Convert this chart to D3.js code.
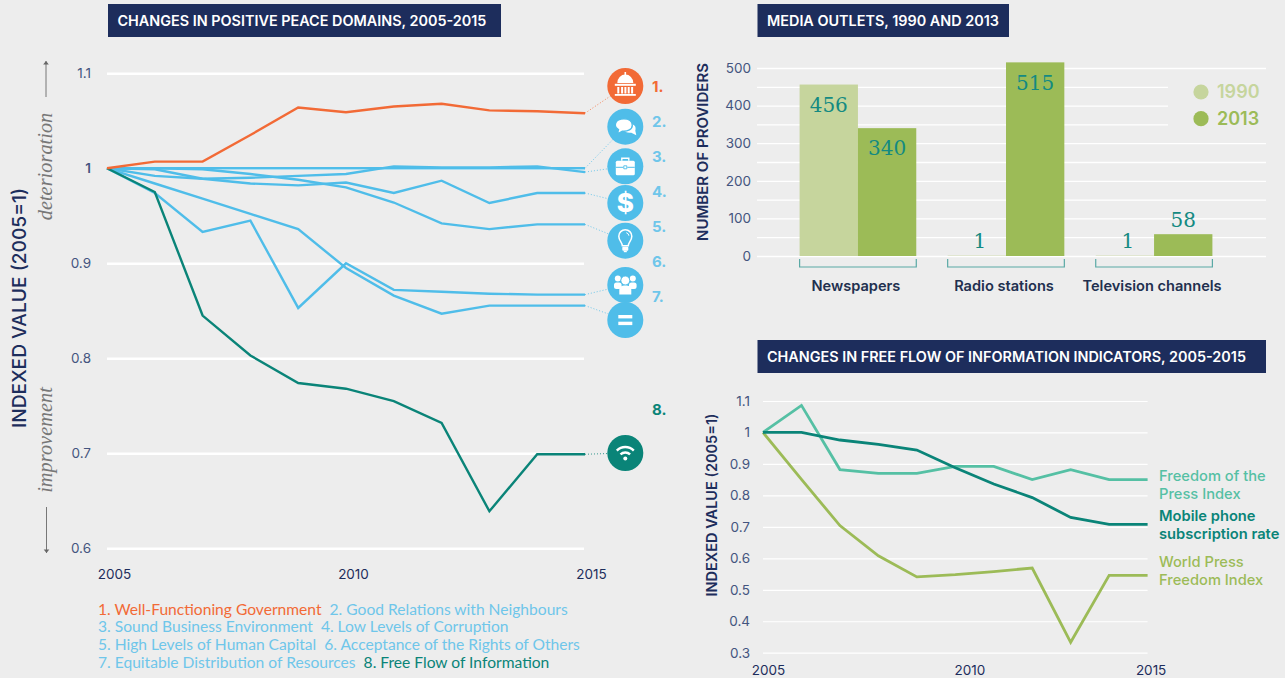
<!DOCTYPE html>
<html>
<head>
<meta charset="utf-8">
<title>Positive Peace and media outlets</title>
<script src="https://cdn.jsdelivr.net/npm/d3@7"></script>
<style>
html, body { margin: 0; padding: 0; background: #ededed; overflow: hidden; }
svg { font-family: Inter, Lato, sans-serif; }
.grid .domain, .plain .domain { display: none; }
.plain line { display: none; }
</style>
</head>
<body>
<div id="chart"></div>
<script>
// Chart values
const years = [2005, 2006, 2007, 2008, 2009, 2010, 2011, 2012, 2013, 2014, 2015];

const government = [1, 1.007, 1.007, 1.035, 1.064, 1.059, 1.065, 1.068, 1.061, 1.06, 1.058];
const neighbours = [1, 1, 1, 1, 1, 1, 1, 1, 1, 1, 1];
const business = [1, 0.992, 0.989, 0.99, 0.992, 0.994, 1.002, 1.001, 1.001, 1.002, 0.996];
const corruption = [1, 0.999, 0.989, 0.984, 0.982, 0.985, 0.974, 0.987, 0.9635, 0.974, 0.974];
const humanCapital = [1, 1, 0.999, 0.994, 0.988, 0.98, 0.964, 0.942, 0.936, 0.941, 0.941];
const rightsOfOthers = [1, 0.974, 0.933, 0.945, 0.853, 0.9, 0.872, 0.87, 0.868, 0.867, 0.867];
const resources = [1, 0.984, 0.968, 0.952, 0.936, 0.895, 0.866, 0.847, 0.8555, 0.8555, 0.8555];
const freeFlow = [1, 0.975, 0.845, 0.803, 0.774, 0.768, 0.755, 0.732, 0.639, 0.699, 0.699];

const peaceTicks = [0.6, 0.7, 0.8, 0.9, 1, 1.1];
const yearTicks = [2005, 2010, 2015];
const peaceLegend = [
    ["1. Well-Functioning Government", "2. Good Relations with Neighbours"],
    ["3. Sound Business Environment", "4. Low Levels of Corruption"],
    ["5. High Levels of Human Capital", "6. Acceptance of the Rights of Others"],
    ["7. Equitable Distribution of Resources", "8. Free Flow of Information"]
];

const mediaCategories = ["Newspapers", "Radio stations", "Television channels"];
const mediaYears = ["1990", "2013"];
const media1990 = [456, 1, 1];
const media2013 = [340, 515, 58];
const mediaGridTicks = [0, 50, 100, 150, 200, 250, 300, 350, 400, 450, 500];

const pressFreedom = [1, 1.086, 0.882, 0.87, 0.87, 0.892, 0.892, 0.85, 0.882, 0.85, 0.85];
const mobilePhone = [1, 1, 0.976, 0.962, 0.944, 0.888, 0.836, 0.793, 0.73, 0.708, 0.708];
const worldPress = [1, 0.851, 0.704, 0.608, 0.541, 0.548, 0.558, 0.569, 0.333, 0.546, 0.546];
const infoTicks = [0.3, 0.4, 0.5, 0.6, 0.7, 0.8, 0.9, 1, 1.1];

// Colours
const navy = "#1d2d5c";
const tickColor = "#44557f";
const orange = "#f26a36";
const blue = "#4fbde9";
const legendBlue = "#6fc6ea";
const teal = "#0a8478";
const pressGreen = "#55c0a4";
const lightOlive = "#c6d59d";
const olive = "#9cbb57";
const valueTeal = "#148a82";

const serif = "'Liberation Serif', serif";

const svg = d3.select("#chart")
    .append("svg")
    .attr("width", 1285)
    .attr("height", 678)
    .style("display", "block");

svg.append("rect").attr("width", 1285).attr("height", 678).attr("fill", "#ededed");

function titleBox(x, y, w, label) {
    svg.append("rect")
        .attr("x", x).attr("y", y).attr("width", w).attr("height", 33)
        .attr("fill", navy);
    svg.append("text")
        .attr("x", x + 9.5).attr("y", y + 21.8)
        .attr("fill", "#fff")
        .attr("font-size", 14.4)
        .attr("font-weight", 600)
        .text(label);
}

function rotatedText(x, y, label, size, weight, color, family, style) {
    svg.append("text")
        .attr("transform", `translate(${x},${y}) rotate(-90)`)
        .attr("text-anchor", "middle")
        .attr("font-size", size)
        .attr("font-weight", weight)
        .attr("fill", color)
        .attr("font-family", family || null)
        .attr("font-style", style || null)
        .text(label);
}

// y axis with white grid lines running across the plot
function gridAxis(scale, ticks, x, gridWidth, strokeWidth, padding, size, format) {
    const g = svg.append("g")
        .attr("class", "grid")
        .attr("transform", `translate(${x},0)`)
        .call(d3.axisLeft(scale).tickValues(ticks).tickSize(-gridWidth).tickPadding(padding).tickFormat(format));
    g.selectAll("line").attr("stroke", "#fff").attr("stroke-width", strokeWidth);
    g.attr("font-family", null);
    g.selectAll("text").attr("fill", tickColor).attr("font-size", size);
    return g;
}

// year labels sit a little to the right of their data position in the original
function yearAxis(scale, y, nudge, size) {
    const g = svg.append("g")
        .attr("class", "plain")
        .attr("transform", `translate(0,${y})`)
        .call(d3.axisBottom(scale).tickValues(yearTicks).tickSize(0).tickPadding(0).tickFormat(d3.format("d")));
    g.attr("font-family", null);
    g.selectAll("text")
        .attr("dx", d => nudge[d])
        .attr("fill", navy)
        .attr("font-size", size);
}

const indexFormat = d => d === 1 ? "1" : d3.format(".1f")(d);

// ---------- Left chart: Positive Peace domains ----------
titleBox(108, 4, 393, "CHANGES IN POSITIVE PEACE DOMAINS, 2005-2015");

const xPeace = d3.scaleLinear().domain([2005, 2015]).range([107, 585]);
const yPeace = d3.scaleLinear().domain([0.6, 1.1]).range([548.3, 73.3]);

gridAxis(yPeace, peaceTicks, 107, 477, 2.4, 16, 13.5, indexFormat)
    .selectAll("text")
    .attr("font-weight", d => d === 1 ? 600 : 400);
yearAxis(xPeace, 569.5, {2005: 7, 2010: 7, 2015: 6}, 13.5);

const peaceLine = d3.line()
    .x((d, i) => xPeace(years[i]))
    .y(d => yPeace(d));

const peaceSeries = [
    {values: neighbours, color: blue, icon: "chat", cy: 126.7, ny: 121.7, n: "2."},
    {values: business, color: blue, icon: "case", cy: 166.3, ny: 156.7, n: "3."},
    {values: corruption, color: blue, icon: "dollar", cy: 203, ny: 191.7, n: "4."},
    {values: humanCapital, color: blue, icon: "bulb", cy: 240.7, ny: 226.7, n: "5."},
    {values: rightsOfOthers, color: blue, icon: "people", cy: 285, ny: 261.7, n: "6."},
    {values: resources, color: blue, icon: "equals", cy: 320, ny: 296.7, n: "7."},
    {values: freeFlow, color: teal, icon: "wifi", cy: 453, ny: 409.7, n: "8."},
    {values: government, color: orange, icon: "capitol", cy: 86, ny: 86.7, n: "1."}
];

const iconX = 625.3;

// dotted leaders go under the icons
svg.append("g").selectAll("line")
    .data(peaceSeries)
    .enter().append("line")
    .attr("x1", xPeace(2015))
    .attr("y1", d => yPeace(d.values[d.values.length - 1]))
    .attr("x2", iconX)
    .attr("y2", d => d.cy)
    .attr("stroke", d => d.color)
    .attr("stroke-width", 1)
    .attr("stroke-opacity", 0.8)
    .attr("stroke-dasharray", "1 2");

svg.append("g").selectAll("path")
    .data(peaceSeries)
    .enter().append("path")
    .attr("fill", "none")
    .attr("stroke", d => d.color)
    .attr("stroke-width", 2.4)
    .attr("stroke-linejoin", "miter")
    .attr("d", d => peaceLine(d.values));

const icons = svg.append("g").selectAll("g")
    .data(peaceSeries)
    .enter().append("g")
    .attr("transform", d => `translate(${iconX},${d.cy})`);

icons.append("circle").attr("r", 18).attr("fill", d => d.color);
icons.each(function(d) { drawIcon(d3.select(this), d.icon, d.color); });

svg.append("g").selectAll("text")
    .data(peaceSeries)
    .enter().append("text")
    .attr("x", 652)
    .attr("y", d => d.ny)
    .attr("dy", "0.36em")
    .attr("fill", d => d.color === blue ? legendBlue : d.color)
    .attr("font-size", 15)
    .attr("font-weight", 700)
    .text(d => d.n);

function drawIcon(g, type, color) {
    const rect = (x, y, w, h, rx) => g.append("rect")
        .attr("x", x).attr("y", y).attr("width", w).attr("height", h)
        .attr("rx", rx || 0).attr("fill", "#fff");
    const path = d => g.append("path").attr("d", d).attr("fill", "#fff");
    const stroke = (d, w, c) => g.append("path").attr("d", d)
        .attr("fill", "none").attr("stroke", c || "#fff").attr("stroke-width", w);
    if (type === "capitol") {
        rect(-0.8, -14, 1.6, 4);
        path("M-8,-3 A8,8.5 0 0 1 8,-3 Z");
        rect(-10.5, -2.2, 21, 2);
        [-8, -4.2, -0.9, 2.4, 5.8].forEach(x => rect(x, 1, 2, 6.5));
        rect(-10.5, 8, 21, 1.8);
    } else if (type === "chat") {
        path("M3,-2 C10,-4 11,1 10,4 L11,8.5 L6,6 C2,6.5 -1,5 -1,3 Z");
        stroke("M-10,-1.5 C-10,-7 -4,-8 -1.5,-8 C3,-8 7,-6 7,-1.5 C7,3 2,4.5 -1.5,4.5 L-3,4.4 L-8,7.5 L-6.8,3 C-8.8,2 -10,0.5 -10,-1.5 Z", 1.4, color)
            .attr("fill", "#fff");
    } else if (type === "case") {
        rect(-9.5, -5.5, 19, 14.5, 1.5);
        stroke("M-3.5,-5.5 V-8 H3.5 V-5.5", 1.4);
        stroke("M-9.5,1 H-2 M2,1 H9.5", 1, color);
        stroke("M-1.5,-0.5 H1.5 V2.5 H-1.5 Z", 0.9, color);
    } else if (type === "dollar") {
        g.append("text")
            .attr("text-anchor", "middle")
            .attr("y", 9)
            .attr("fill", "#fff")
            .attr("font-size", 26)
            .attr("font-weight", 800)
            .text("$");
    } else if (type === "bulb") {
        stroke("M-3,5 C-3,1.5 -6.5,0 -6.5,-4.5 A6.5,6.5 0 0 1 6.5,-4.5 C6.5,0 3,1.5 3,5 Z", 1.5);
        stroke("M1,-8 A3.5,3.5 0 0 1 3.6,-5", 1);
        rect(-3, 6, 6, 4, 1);
        rect(-1.5, 10, 3, 1.5);
    } else if (type === "people") {
        [-7.5, 7.5].forEach(x => {
            g.append("circle").attr("cx", x).attr("cy", -6.5).attr("r", 3).attr("fill", "#fff");
            rect(x - 3.8, -2.5, 7.6, 6.5, 2.5);
        });
        g.append("circle").attr("cx", 0).attr("cy", -4.5).attr("r", 4.4).attr("fill", "#fff")
            .attr("stroke", color).attr("stroke-width", 0.8);
        path("M-6,9.5 V5 C-6,1.5 -3.5,0.5 0,0.5 C3.5,0.5 6,1.5 6,5 V9.5 Z");
    } else if (type === "equals") {
        rect(-7, -5, 14, 3.4);
        rect(-7, 1.7, 14, 3.4);
    } else if (type === "wifi") {
        stroke("M-8.5,-2.4 A12,12 0 0 1 8.5,-2.4", 2.4);
        stroke("M-4.8,1.4 A7,7 0 0 1 4.8,1.4", 2.4);
        g.append("circle").attr("cy", 5.4).attr("r", 2).attr("fill", "#fff");
    }
}

// side annotations for the left chart
rotatedText(26, 308, "INDEXED VALUE (2005=1)", 19.2, 500, navy);
rotatedText(51.5, 166.5, "deterioration", 20.4, 400, "#777", serif, "italic");
rotatedText(51.5, 440, "improvement", 20.4, 400, "#777", serif, "italic");

function arrow(x, y1, y2) {
    const dir = y2 > y1 ? 1 : -1;
    svg.append("line")
        .attr("x1", x).attr("x2", x).attr("y1", y1).attr("y2", y2)
        .attr("stroke", "#777").attr("stroke-width", 1);
    svg.append("path")
        .attr("d", `M${x - 2.8},${y2 - dir * 3.5} L${x},${y2} L${x + 2.8},${y2 - dir * 3.5} Z`)
        .attr("fill", "#666");
}
arrow(46, 97, 61);
arrow(46.5, 507, 553);

// legend under the left chart, two coloured items on each row
const legendRows = svg.append("g").selectAll("text")
    .data(peaceLegend)
    .enter().append("text")
    .attr("x", 98)
    .attr("y", (d, i) => 609 + i * 17.7)
    .attr("dy", "0.36em")
    .attr("font-size", 15.6)
    .attr("font-family", "Lato, sans-serif")
    .attr("fill", legendBlue);

legendRows.each(function(row, r) {
    row.forEach((label, i) => {
        d3.select(this).append("tspan")
            .attr("dx", i ? 8 : 0)
            .attr("fill", label.startsWith("1.") ? orange : label.startsWith("8.") ? teal : legendBlue)
            .text(label);
    });
});

// ---------- Top right: media outlets ----------
titleBox(757.5, 4, 251.5, "MEDIA OUTLETS, 1990 AND 2013");

const yMedia = d3.scaleLinear().domain([0, 500]).range([256, 68]);
const xCategory = d3.scaleBand().domain(mediaCategories).range([799.6, 1212.4]).paddingInner(0.212);
const xYear = d3.scaleBand().domain(mediaYears).range([0, xCategory.bandwidth()]);

gridAxis(yMedia, mediaGridTicks, 757, 509, 1.3, 6, 13.5, d => d % 100 === 0 ? d : "");

// the legend sits on a plain patch that cuts the grid lines
svg.append("rect").attr("x", 1168).attr("y", 80).attr("width", 100).attr("height", 55).attr("fill", "#ededed");

const mediaRows = mediaCategories.map((c, i) => ({
    category: c,
    bars: [
        {year: "1990", value: media1990[i]},
        {year: "2013", value: media2013[i]}
    ]
}));
const yearColor = d3.scaleOrdinal().domain(mediaYears).range([lightOlive, olive]);

const mediaGroups = svg.append("g").selectAll("g")
    .data(mediaRows)
    .enter().append("g")
    .attr("transform", d => `translate(${xCategory(d.category)},0)`);

mediaGroups.selectAll("rect")
    .data(d => d.bars)
    .enter().append("rect")
    .attr("x", d => xYear(d.year))
    .attr("y", d => yMedia(d.value))
    .attr("width", xYear.bandwidth())
    .attr("height", d => yMedia(0) - yMedia(d.value))
    .attr("fill", d => yearColor(d.year));

// big values go inside the bar, small ones stand above it
mediaGroups.selectAll("text.value")
    .data(d => d.bars)
    .enter().append("text")
    .attr("class", "value")
    .attr("x", d => xYear(d.year) + xYear.bandwidth() / 2 + (d.value === 1 ? 3 : 0))
    .attr("y", d => yMedia(d.value) + (d.value > 100 ? 20 : -14.5))
    .attr("dy", "0.36em")
    .attr("text-anchor", "middle")
    .attr("fill", valueTeal)
    .attr("font-family", "'DejaVu Serif', serif")
    .attr("font-size", 20)
    .text(d => d.value);

// brackets and category names
mediaGroups.append("path")
    .attr("d", `M0,259 V267 H${xCategory.bandwidth()} V259`)
    .attr("fill", "none")
    .attr("stroke", "#5aa9a5")
    .attr("stroke-width", 1.2);

svg.append("g").selectAll("text")
    .data(mediaCategories)
    .enter().append("text")
    .attr("x", d => xCategory(d) + xCategory.bandwidth() / 2 - 2)
    .attr("y", 286)
    .attr("dy", "0.36em")
    .attr("text-anchor", "middle")
    .attr("fill", "#22304f")
    .attr("font-size", 14.6)
    .attr("font-weight", 600)
    .text(d => d);

rotatedText(708, 152, "NUMBER OF PROVIDERS", 15, 600, navy);

const mediaLegend = svg.append("g").selectAll("g")
    .data(mediaYears)
    .enter().append("g")
    .attr("transform", (d, i) => `translate(1201,${92 + i * 26.7})`);
mediaLegend.append("circle").attr("r", 7.6).attr("fill", d => yearColor(d));
mediaLegend.append("text")
    .attr("x", 16)
    .attr("dy", "0.36em")
    .attr("fill", d => yearColor(d))
    .attr("font-size", 18)
    .attr("font-weight", 600)
    .text(d => d);

// ---------- Bottom right: free flow indicators ----------
titleBox(757.5, 340, 508.5, "CHANGES IN FREE FLOW OF INFORMATION INDICATORS, 2005-2015");

const xInfo = d3.scaleLinear().domain([2005, 2015]).range([763, 1147.6]);
const yInfo = d3.scaleLinear().domain([0.3, 1.1]).range([652.7, 401]);

gridAxis(yInfo, infoTicks, 763, 384.6, 1.2, 13, 13.5, indexFormat);
yearAxis(xInfo, 665, {2005: 5, 2010: 14, 2015: 3}, 13.5);

const infoLine = d3.line()
    .x((d, i) => xInfo(years[i]))
    .y(d => yInfo(d));

const infoSeries = [
    {values: worldPress, color: olive, labels: ["World Press", "Freedom Index"], y: 561.7, weight: 500},
    {values: pressFreedom, color: pressGreen, labels: ["Freedom of the", "Press Index"], y: 476, weight: 500},
    {values: mobilePhone, color: teal, labels: ["Mobile phone", "subscription rate"], y: 516, weight: 600}
];

svg.append("g").selectAll("path")
    .data(infoSeries)
    .enter().append("path")
    .attr("fill", "none")
    .attr("stroke", d => d.color)
    .attr("stroke-width", 2.8)
    .attr("d", d => infoLine(d.values));

const infoLabels = svg.append("g").selectAll("text")
    .data(infoSeries)
    .enter().append("text")
    .attr("fill", d => d.color)
    .attr("font-size", 14.7)
    .attr("font-weight", d => d.weight);

infoLabels.selectAll("tspan")
    .data(d => d.labels.map((t, i) => ({t: t, y: d.y + i * 18})))
    .enter().append("tspan")
    .attr("x", 1159)
    .attr("y", d => d.y)
    .attr("dy", "0.36em")
    .text(d => d.t);

rotatedText(717, 505, "INDEXED VALUE (2005=1)", 14.5, 600, navy);
</script>
</body>
</html>
